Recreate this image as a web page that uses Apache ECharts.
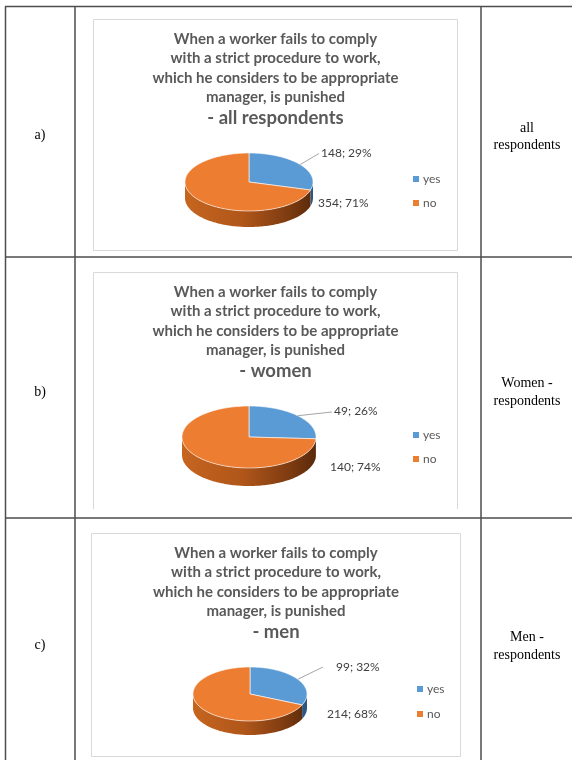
<!DOCTYPE html>
<html>
<head>
<meta charset="utf-8">
<title>Punishment for non-compliance with a strict work procedure</title>
<script src="https://cdn.jsdelivr.net/npm/echarts@6/dist/echarts.min.js"></script>
<style>
  html, body { margin: 0; padding: 0; background: #ffffff; }
  #chart { width: 572px; height: 760px; }
</style>
</head>
<body>
<div id="chart"></div>
<script>
// ---- data ----
const categories = ['yes', 'no'];
const groupNames = ['all respondents', 'women', 'men'];
const allCounts = [148, 354];
const womenCounts = [49, 140];
const menCounts = [99, 214];
const rowTags = ['a)', 'b)', 'c)'];
const rowNotes = [['all', 'respondents'], ['Women -', 'respondents'], ['Men -', 'respondents']];
const titleLines = [
  'When a worker fails to comply',
  'with a strict procedure to work,',
  'which he considers to be appropriate',
  'manager, is punished'
];
const sliceColors = ['#5B9BD5', '#ED7D31'];

// ---- layout of the three panels ----
const panels = [
  { counts: allCounts, box: [93.5, 19.5, 457.5, 250.5], closed: true, titleTop: 29, centerX: 275.5,
    cx: 249, cy: 182, rx: 64, ry: 29, depth: 16,
    yesLabel: [321, 153], yesLineEnd: [319, 153.5], noLabel: [318, 203],
    legendLeft: 413, legendTop: 172, legendGap: 10, tagY: 135, noteY: [128, 145] },
  { counts: womenCounts, box: [93.5, 272.5, 457.5, 509], closed: false, titleTop: 282, centerX: 275.5,
    cx: 249, cy: 437, rx: 67, ry: 31, depth: 18,
    yesLabel: [334, 411], yesLineEnd: [332, 412], noLabel: [330, 467],
    legendLeft: 413, legendTop: 428, legendGap: 10, tagY: 392, noteY: [383, 401] },
  { counts: menCounts, box: [91.5, 533.5, 460.5, 756.5], closed: true, titleTop: 543, centerX: 276,
    cx: 250, cy: 694, rx: 57, ry: 27, depth: 14,
    yesLabel: [336, 667], yesLineEnd: [323, 667], noLabel: [327, 714],
    legendLeft: 417, legendTop: 682, legendGap: 11, tagY: 645, noteY: [637, 655] }
];

const FONT = 'Lato, "Open Sans", sans-serif';
const SERIF = '"Liberation Serif", "DejaVu Serif", serif';

function sum(arr) { return arr.reduce((s, v) => s + v, 0); }

// side shading of each slice colour (left -> right)
const sideStops = [
  [{ offset: 0, color: '#4a7fb3' }, { offset: 0.6, color: '#3b6a97' }, { offset: 1, color: '#2c5680' }],
  [{ offset: 0, color: '#c5651f' }, { offset: 0.45, color: '#b0561a' }, { offset: 0.82, color: '#7b3a10' }, { offset: 1, color: '#5a2a0b' }]
];

// draws one slice of a tilted pie: elliptical top face plus the visible front wall
function sliceRenderer(p, j) {
  const total = sum(p.counts);
  const before = sum(p.counts.slice(0, j));
  return function (params, api) {
    const v = api.value(0);
    const a0 = before / total * Math.PI * 2;
    const a1 = (before + v) / total * Math.PI * 2;
    const pt = (a, dy) => [p.cx + p.rx * Math.sin(a), p.cy - p.ry * Math.cos(a) + (dy || 0)];
    const arc = (s, e, dy) => {
      const n = Math.max(6, Math.ceil(Math.abs(e - s) / (Math.PI / 120)));
      const out = [];
      for (let i = 0; i <= n; i++) out.push(pt(s + (e - s) * i / n, dy));
      return out;
    };
    const children = [];
    const s0 = Math.max(a0, Math.PI / 2);
    const s1 = Math.min(a1, Math.PI * 1.5);
    if (s1 > s0) {
      const wall = arc(s0, s1, 0).concat(arc(s1, s0, p.depth));
      children.push({
        type: 'polygon', z2: 1,
        shape: { points: wall },
        style: {
          fill: { type: 'linear', x: p.cx - p.rx, y: 0, x2: p.cx + p.rx, y2: 0, global: true, colorStops: sideStops[j] },
          stroke: null
        }
      });
    }
    const face = [[p.cx, p.cy]].concat(arc(a0, a1, 0));
    children.push({
      type: 'polygon', z2: 2,
      shape: { points: face },
      style: { fill: sliceColors[j], stroke: 'rgba(255,255,255,0.75)', lineWidth: 0.8 }
    });
    const pct = Math.round(v / total * 100);
    const text = v + '; ' + pct + '%';
    if (j === 0) {
      const mid = pt((a0 + a1) / 2, 0);
      children.push({
        type: 'polyline', z2: 3,
        shape: { points: [mid, p.yesLineEnd] },
        style: { stroke: '#a6a6a6', lineWidth: 1, fill: null }
      });
      children.push({
        type: 'text', z2: 4, x: p.yesLabel[0], y: p.yesLabel[1],
        style: { text: text, fill: '#404040', fontSize: 12, fontFamily: FONT, align: 'left', verticalAlign: 'middle' }
      });
    } else {
      children.push({
        type: 'text', z2: 4, x: p.noLabel[0], y: p.noLabel[1],
        style: { text: text, fill: '#404040', fontSize: 12, fontFamily: FONT, align: 'left', verticalAlign: 'middle' }
      });
    }
    return { type: 'group', children: children };
  };
}

const series = [];
const titles = [];
const legends = [];
const graphics = [];

panels.forEach((p, i) => {
  categories.forEach((c, j) => {
    series.push({
      type: 'custom',
      name: c,
      coordinateSystem: 'none',
      itemStyle: { color: sliceColors[j] },
      data: [[p.counts[j]]],
      renderItem: sliceRenderer(p, j),
      animation: false
    });
  });

  titles.push({
    text: titleLines.map(l => '{t|' + l + '}').join('\n') + '\n{s|- ' + groupNames[i] + '}',
    left: p.centerX,
    top: p.titleTop,
    textAlign: 'center',
    padding: 0,
    textStyle: {
      rich: {
        t: { fontFamily: FONT, fontSize: 15, fontWeight: 'bold', color: '#595959', lineHeight: 19.5, align: 'center' },
        s: { fontFamily: FONT, fontSize: 18.5, fontWeight: 'bold', color: '#595959', lineHeight: 23, align: 'center' }
      }
    }
  });

  legends.push({
    data: categories,
    orient: 'vertical',
    left: p.legendLeft,
    top: p.legendTop,
    padding: 0,
    icon: 'rect',
    itemWidth: 6,
    itemHeight: 6,
    itemGap: p.legendGap,
    textStyle: { fontFamily: FONT, fontSize: 12, color: '#595959', lineHeight: 14, padding: [0, 0, 0, -1] }
  });

  // chart frame
  const b = p.box;
  if (p.closed) {
    graphics.push({ type: 'rect', z: -1, shape: { x: b[0], y: b[1], width: b[2] - b[0], height: b[3] - b[1] },
      style: { fill: '#ffffff', stroke: '#d9d9d9', lineWidth: 1 } });
  } else {
    graphics.push({ type: 'polyline', z: -1, shape: { points: [[b[0], b[3]], [b[0], b[1]], [b[2], b[1]], [b[2], b[3]]] },
      style: { fill: null, stroke: '#d9d9d9', lineWidth: 1 } });
  }

  // row tag and note
  graphics.push({ type: 'text', x: 40, y: p.tagY,
    style: { text: rowTags[i], fontFamily: SERIF, fontSize: 14, fill: '#000000', align: 'center', verticalAlign: 'middle' } });
  rowNotes[i].forEach((line, k) => {
    graphics.push({ type: 'text', x: 527, y: p.noteY[k],
      style: { text: line, fontFamily: SERIF, fontSize: 14, fill: '#000000', align: 'center', verticalAlign: 'middle' } });
  });
});

// table rules
const rule = { stroke: '#4d4d4d', lineWidth: 1.5 };
[[5, 6.5, 572, 6.5], [5, 257, 572, 257], [5, 518, 572, 518],
 [5.5, 6.5, 5.5, 760], [75, 6.5, 75, 760], [481, 6.5, 481, 760]].forEach(s => {
  graphics.push({ type: 'line', z: 5, shape: { x1: s[0], y1: s[1], x2: s[2], y2: s[3] }, style: rule });
});

const chart = echarts.init(document.getElementById('chart'), null, { renderer: 'canvas' });
chart.setOption({
  backgroundColor: '#ffffff',
  animation: false,
  title: titles,
  legend: legends,
  graphic: graphics,
  series: series
});
</script>
</body>
</html>
